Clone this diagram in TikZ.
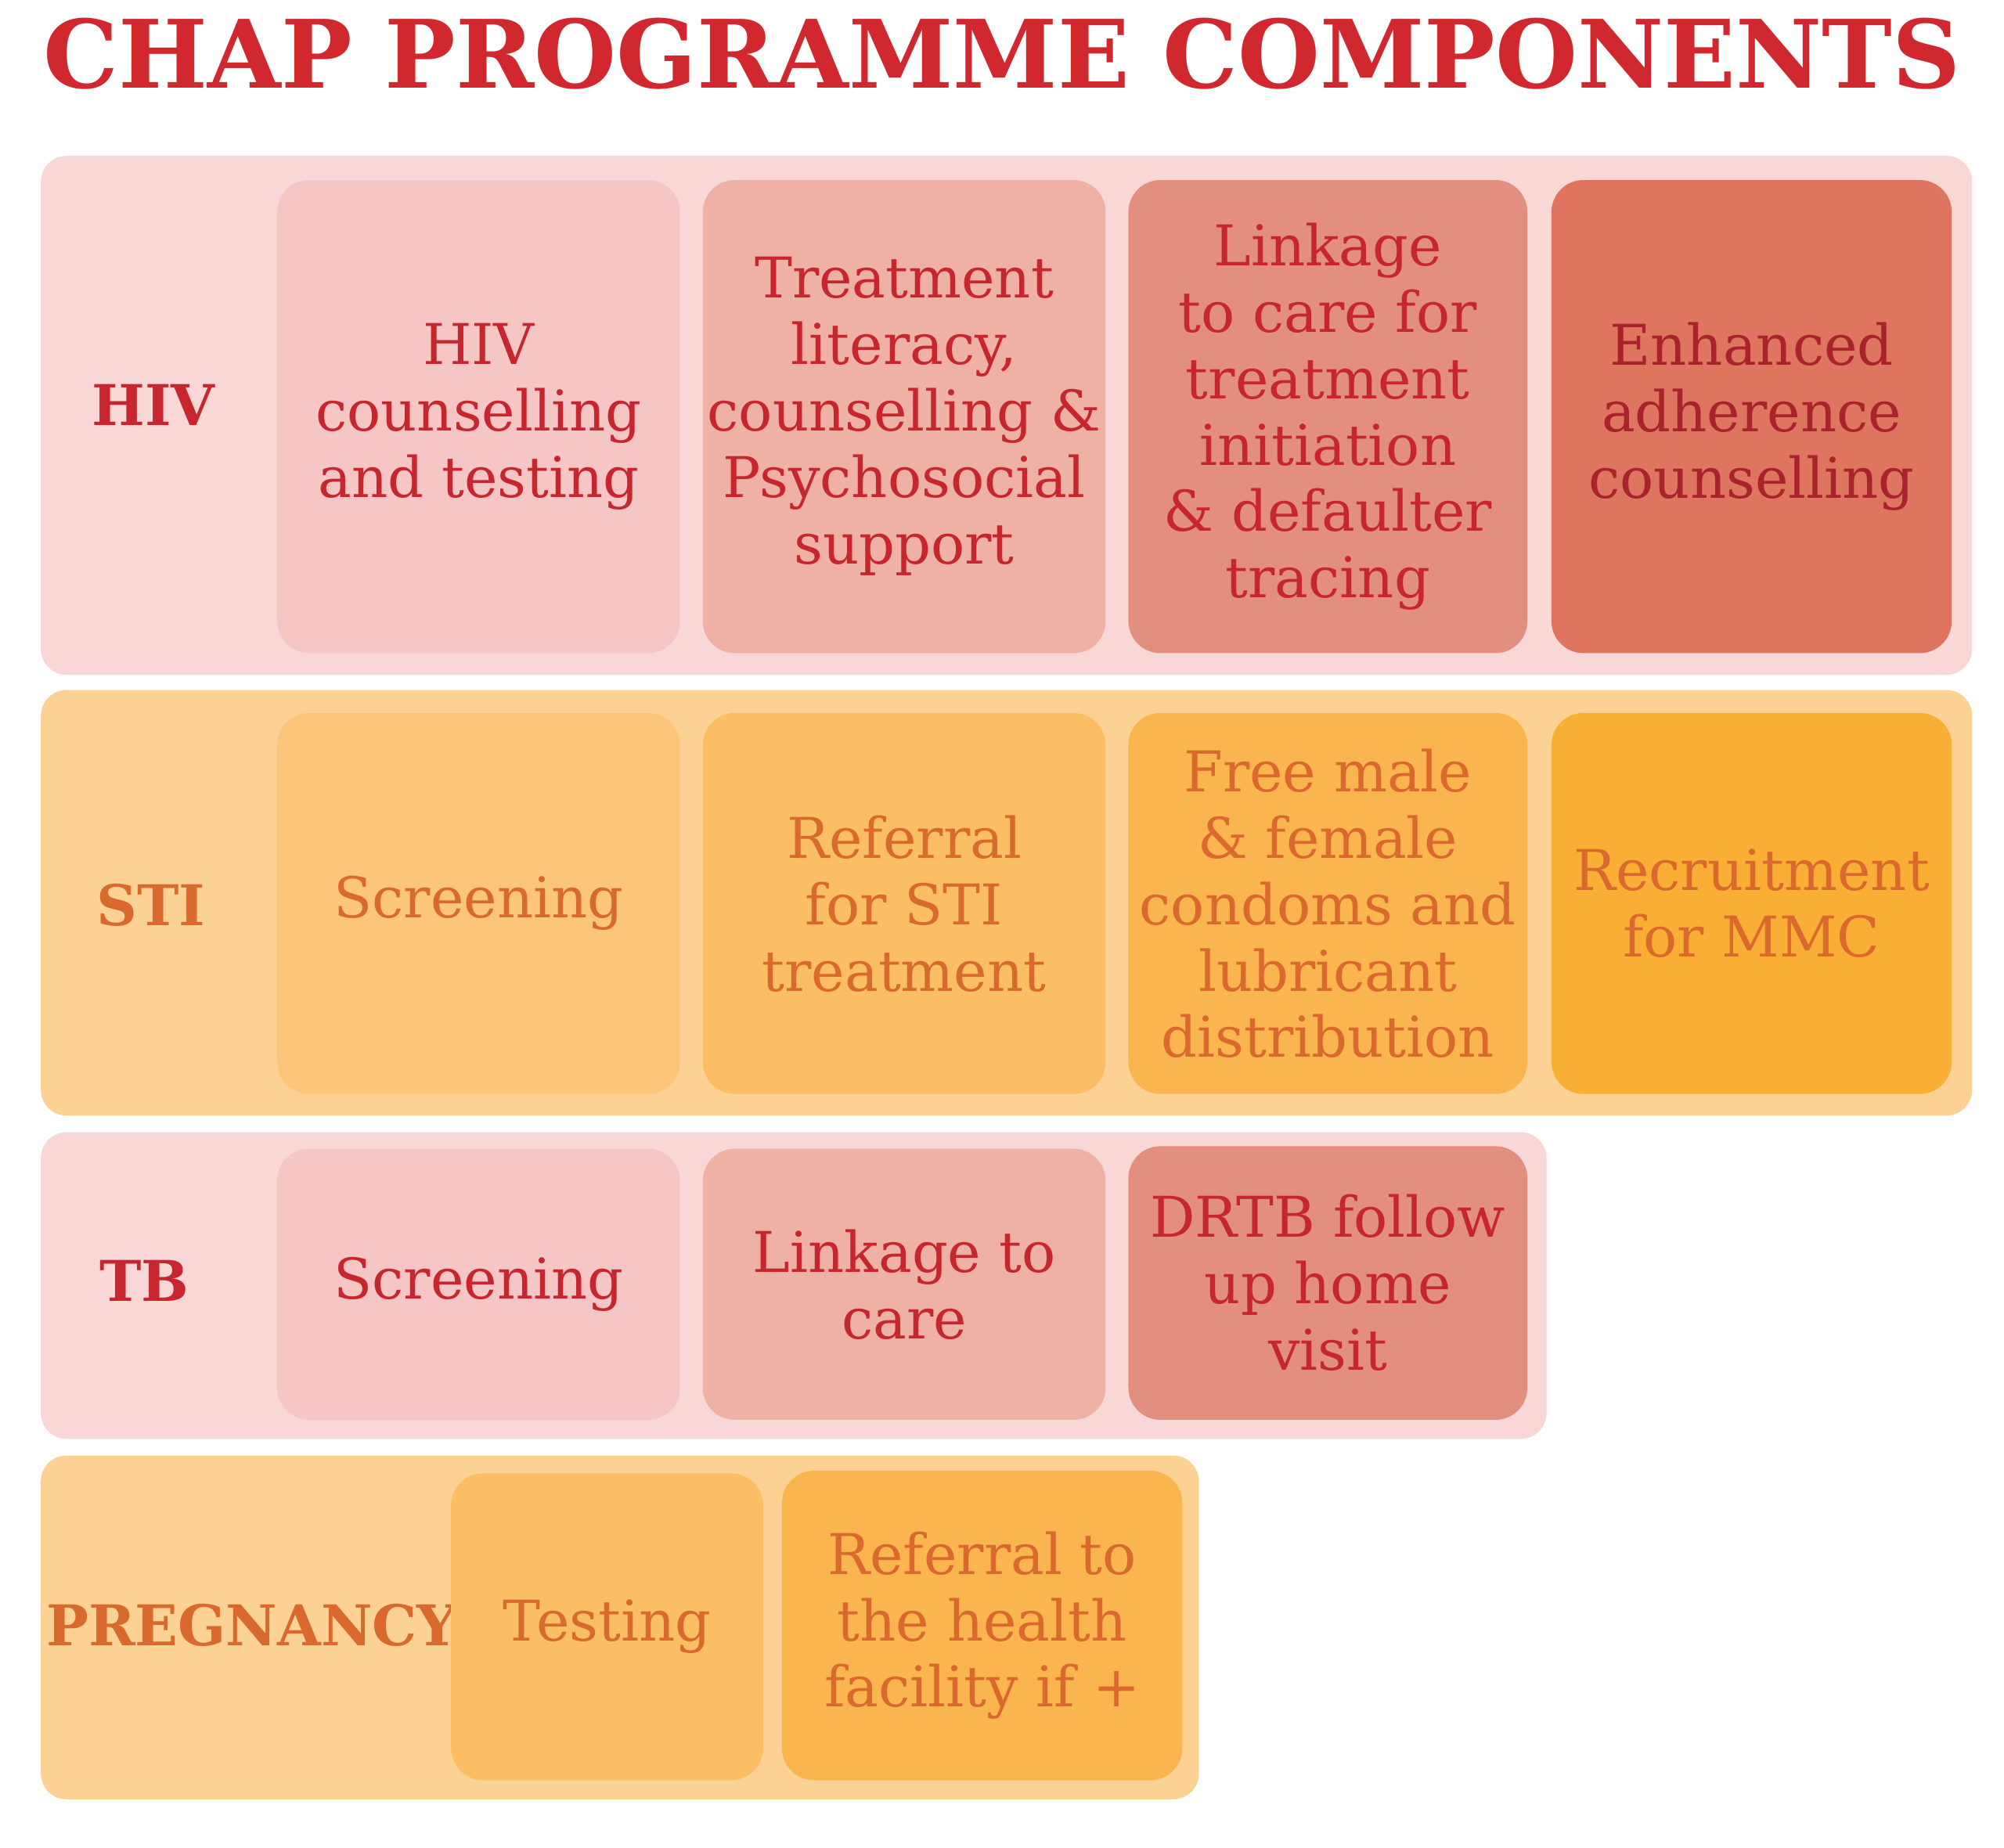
\documentclass[tikz,border=0pt]{standalone}
\usepackage{fontspec}
\setmainfont{DejaVu Serif}
\definecolor{tred}{HTML}{D0282E}
\definecolor{hred}{HTML}{C8262F}
\definecolor{hdark}{HTML}{A8232A}
\definecolor{sor}{HTML}{D9692D}
\definecolor{hbg}{HTML}{F8D7D6}
\definecolor{hA}{HTML}{F5C6C3}
\definecolor{hB}{HTML}{EFB1A6}
\definecolor{hC}{HTML}{E38F80}
\definecolor{hD}{HTML}{DF745F}
\definecolor{sbg}{HTML}{FCD294}
\definecolor{sA}{HTML}{FBC677}
\definecolor{sB}{HTML}{FBBE64}
\definecolor{sC}{HTML}{FBB54F}
\definecolor{sD}{HTML}{F9AF36}
\tikzset{
 band/.style={rounded corners=0.2cm},
 cell/.style={draw=none,rounded corners=0.25cm,align=center,font=\fontsize{12.5}{14.8}\selectfont,inner sep=0pt},
 lab/.style={font=\fontsize{12.5}{14.8}\selectfont\bfseries},
}
\begin{document}
\begin{tikzpicture}[x=0.01cm,y=-0.01cm]
\useasboundingbox[fill=white] (0,0) rectangle (1568,1446);
\node[font=\fontsize{21}{24}\selectfont\bfseries,text=tred] (title) at (784,42) {CHAP PROGRAMME COMPONENTS};
% bands
\fill[hbg,band] (32,122) rectangle (1543,528);
\fill[sbg,band] (32,540) rectangle (1543,873);
\fill[hbg,band] (32,886) rectangle (1210,1126);
\fill[sbg,band] (32,1139) rectangle (938,1408);
% HIV
\node[lab,text=hred] (hiv) at (120,317) {HIV};
\node[cell,fill=hA,text=hred,minimum width=3.15cm,minimum height=3.7cm] (h1) at (374.5,326) {HIV\\counselling\\and testing};
\node[cell,fill=hB,text=hred,minimum width=3.15cm,minimum height=3.7cm] (h2) at (707.5,326) {Treatment\\literacy,\\counselling \&\\Psychosocial\\support};
\node[cell,fill=hC,text=hred,minimum width=3.12cm,minimum height=3.7cm] (h3) at (1039,326) {Linkage\\to care for\\treatment\\initiation\\\& defaulter\\tracing};
\node[cell,fill=hD,text=hdark,minimum width=3.13cm,minimum height=3.7cm] (h4) at (1370.5,326) {Enhanced\\adherence\\counselling};
% STI
\node[lab,text=sor] (sti) at (118,708) {STI};
\node[cell,fill=sA,text=sor,minimum width=3.15cm,minimum height=2.98cm] (s1) at (374.5,707) {Screening};
\node[cell,fill=sB,text=sor,minimum width=3.15cm,minimum height=2.98cm] (s2) at (707.5,707) {Referral\\for STI\\treatment};
\node[cell,fill=sC,text=sor,minimum width=3.12cm,minimum height=2.98cm] (s3) at (1039,707) {Free male\\\& female\\condoms and\\lubricant\\distribution};
\node[cell,fill=sD,text=sor,minimum width=3.13cm,minimum height=2.98cm] (s4) at (1370.5,707) {Recruitment\\for MMC};
% TB
\node[lab,text=hred] (tb) at (113,1002) {TB};
\node[cell,fill=hA,text=hred,minimum width=3.15cm,minimum height=2.12cm] (t1) at (374.5,1005) {Screening};
\node[cell,fill=hB,text=hred,minimum width=3.15cm,minimum height=2.12cm] (t2) at (707.5,1005) {Linkage to\\care};
\node[cell,fill=hC,text=hred,minimum width=3.12cm,minimum height=2.14cm] (t3) at (1039,1004) {DRTB follow\\up home\\visit};
% Pregnancy
\node[lab,text=sor] (preg) at (197,1272) {PREGNANCY};
\node[cell,fill=sB,text=sor,minimum width=2.44cm,minimum height=2.4cm] (p1) at (475,1273) {Testing};
\node[cell,fill=sC,text=sor,minimum width=3.13cm,minimum height=2.42cm] (p2) at (768.5,1272) {Referral to\\the health\\facility if +};
\end{tikzpicture}
\end{document}
